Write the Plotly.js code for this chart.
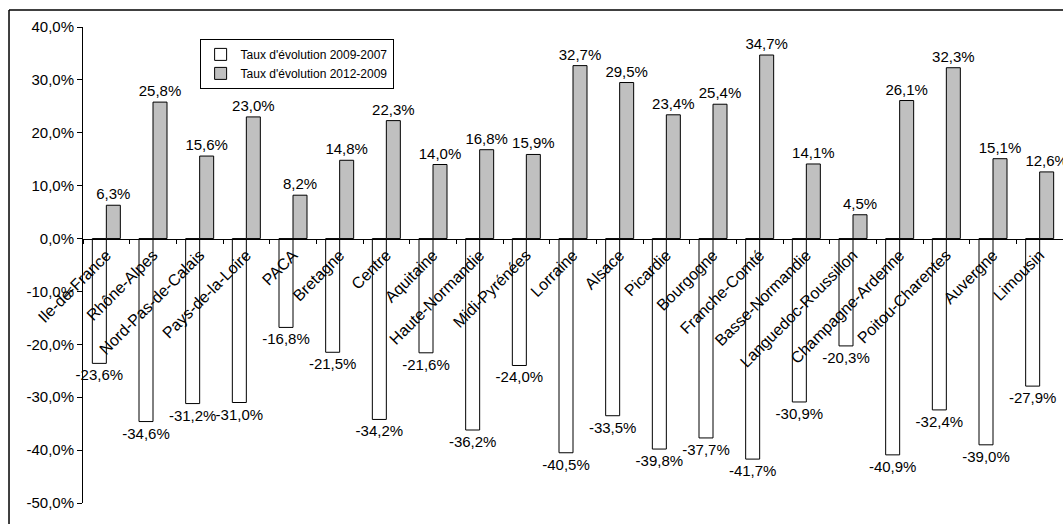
<!DOCTYPE html>
<html>
<head>
<meta charset="utf-8">
<script src="https://cdn.plot.ly/plotly-3.0.1.min.js"></script>
<style>html,body{margin:0;padding:0;background:#fff;}#chart{width:1063px;height:524px;}</style>
</head>
<body>
<div id="chart"></div>
<script>
const regions = ["Ile-de-France","Rhône-Alpes","Nord-Pas-de-Calais","Pays-de-la-Loire","PACA","Bretagne","Centre","Aquitaine","Haute-Normandie","Midi-Pyrénées","Lorraine","Alsace","Picardie","Bourgogne","Franche-Comté","Basse-Normandie","Languedoc-Roussillon","Champagne-Ardenne","Poitou-Charentes","Auvergne","Limousin"];
const evol2009_2007 = [-23.6,-34.6,-31.2,-31.0,-16.8,-21.5,-34.2,-21.6,-36.2,-24.0,-40.5,-33.5,-39.8,-37.7,-41.7,-30.9,-20.3,-40.9,-32.4,-39.0,-27.9];
const evol2012_2009 = [6.3,25.8,15.6,23.0,8.2,14.8,22.3,14.0,16.8,15.9,32.7,29.5,23.4,25.4,34.7,14.1,4.5,26.1,32.3,15.1,12.6];
const seriesNames = ["Taux d'évolution 2009-2007","Taux d'évolution 2012-2009"];
const yTicks = [-50,-40,-30,-20,-10,0,10,20,30,40];
const yTickLabels = ["-50,0%","-40,0%","-30,0%","-20,0%","-10,0%","0,0%","10,0%","20,0%","30,0%","40,0%"];

const fam = "Liberation Sans, Arial, sans-serif";
const font = {family: fam, size: 15, color: "#000"};

const traces = [
  {type:"bar", name: seriesNames[0], x: regions, y: evol2009_2007,
   marker:{color:"#FFFFFF", line:{color:"#000", width:1}},
   texttemplate:"%{y:.1f}%", textposition:"outside", cliponaxis:false, constraintext:"none",
   textfont: font},
  {type:"bar", name: seriesNames[1], x: regions, y: evol2012_2009,
   marker:{color:"#C0C0C0", line:{color:"#000", width:1}},
   texttemplate:"%{y:.1f}%", textposition:"outside", cliponaxis:false, constraintext:"none",
   textfont: font}
];

const layout = {
  width:1063, height:524,
  margin:{l:83, r:0, t:27, b:21},
  separators: ", ",
  paper_bgcolor:"#fff", plot_bgcolor:"rgba(0,0,0,0)",
  font: font,
  barmode:"group", bargap:0.4, bargroupgap:0,
  showlegend:true,
  legend:{x:0.119, y:0.975, xanchor:"left", yanchor:"top", bgcolor:"#fff",
          bordercolor:"#000", borderwidth:1, font:{family:fam, size:12, color:"#000"}},
  xaxis:{anchor:"free", position:0.5555, showline:true, linecolor:"#000", linewidth:1,
         ticks:"outside", tickson:"boundaries", ticklen:4, tickcolor:"#000",
         tickangle:-45, showgrid:false, zeroline:false,
         tickfont:{family:fam, size:16, color:"#000"}, automargin:false},
  yaxis:{range:[-50,40], tickmode:"array", tickvals:yTicks, ticktext:yTickLabels,
         showline:true, linecolor:"#000", linewidth:1, ticks:"outside", ticklen:5,
         tickcolor:"#000", showgrid:false, zeroline:false, tickfont:font, automargin:false},
  shapes:[
    {type:"line", xref:"paper", yref:"paper", x0:-0.0755, x1:1.05, y0:1.0357, y1:1.0357,
     line:{color:"#000", width:1.5}},
    {type:"line", xref:"paper", yref:"paper", x0:-0.0755, x1:-0.0755, y0:-0.1, y1:1.0357,
     line:{color:"#000", width:1.5}}
  ]
};

Plotly.newPlot("chart", traces, layout, {displayModeBar:false, staticPlot:true});
</script>
</body>
</html>
